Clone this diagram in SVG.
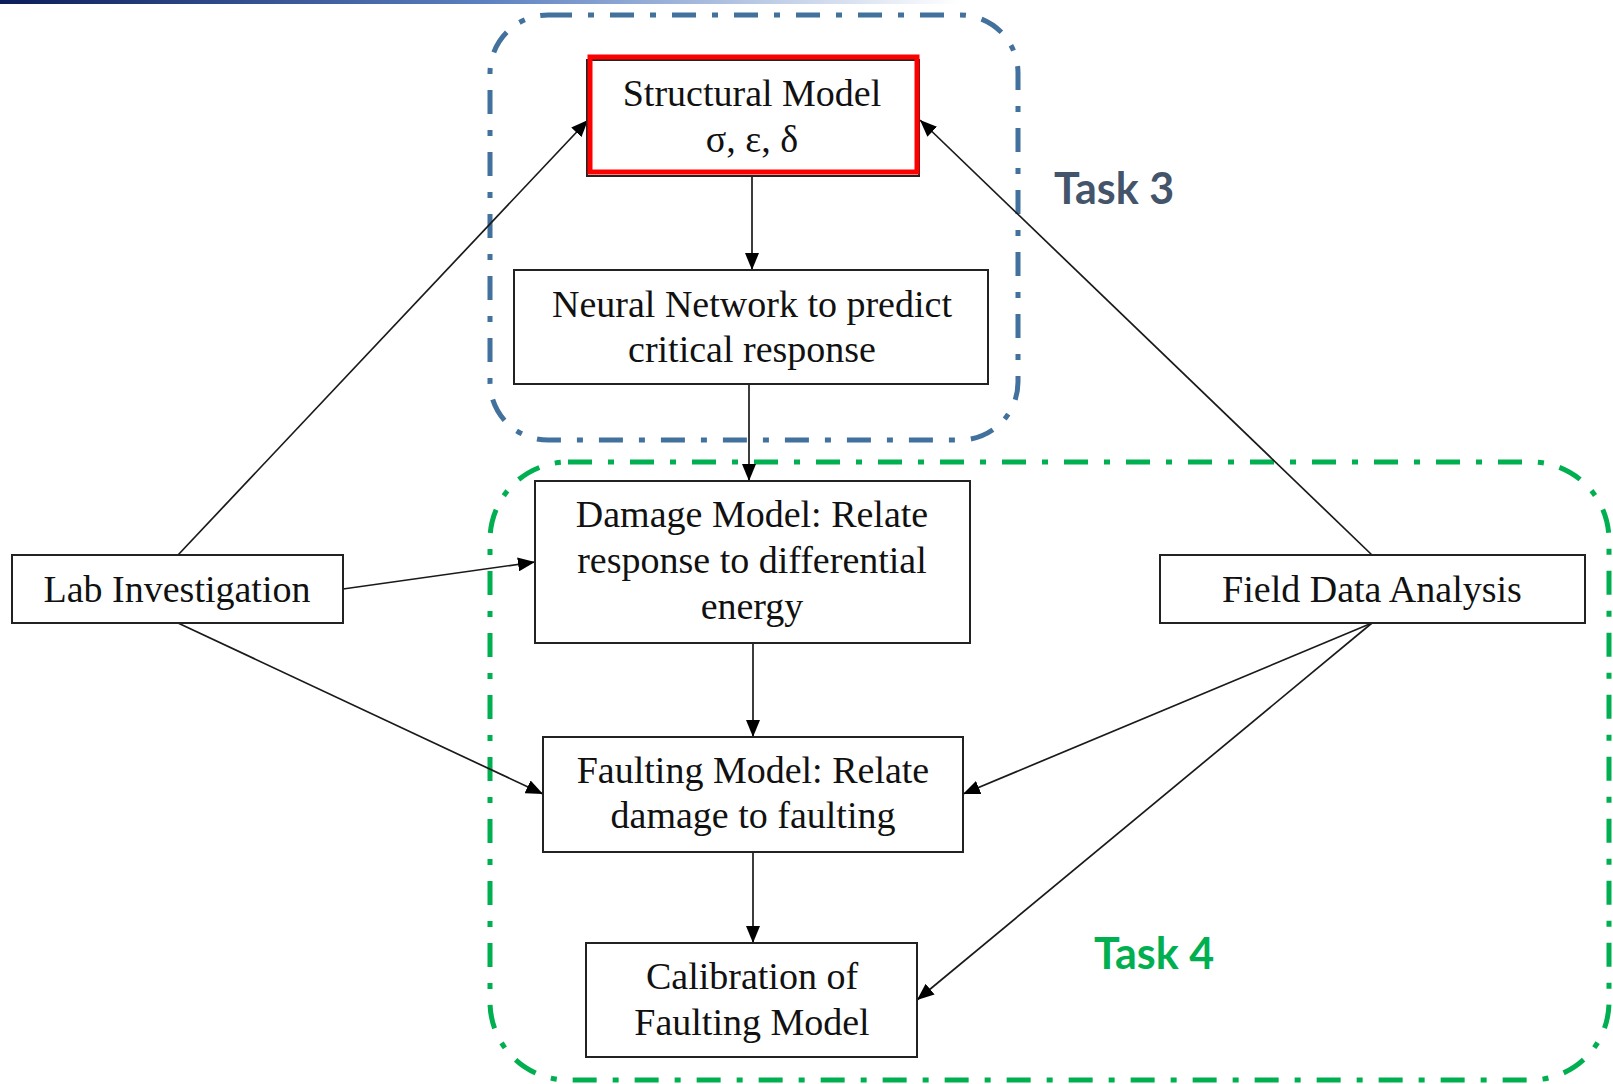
<svg xmlns="http://www.w3.org/2000/svg" width="1613" height="1084" viewBox="0 0 1613 1084">
  <defs>
    <linearGradient id="topbar" x1="0" y1="0" x2="1" y2="0">
      <stop offset="0" stop-color="#0b1d5a"/>
      <stop offset="0.5" stop-color="#5b7fc0"/>
      <stop offset="1" stop-color="#ffffff"/>
    </linearGradient>
    <marker id="arrow" viewBox="0 0 17 14" refX="17" refY="7" markerWidth="17" markerHeight="14" markerUnits="userSpaceOnUse" orient="auto">
      <path d="M0,0 L17,7 L0,14 Z" fill="#000"/>
    </marker>
  </defs>
  <style>
    .node { fill: #ffffff; stroke: #222222; stroke-width: 2; }
    .label { font-family: "Liberation Serif", "Times New Roman", serif; font-size: 38px; fill: #111111; text-anchor: middle; }
    .edge { stroke: #1a1a1a; stroke-width: 1.7; fill: none; marker-end: url(#arrow); }
    .region { fill: none; stroke-width: 5; stroke-dasharray: 24 16 6 16; }
    .task { font-family: Lato, "Open Sans", sans-serif; font-weight: bold; font-size: 43px; }
  </style>

  <rect width="1613" height="1084" fill="#ffffff"/>
  <!-- header rule -->
  <rect x="0" y="0" width="960" height="4" fill="url(#topbar)"/>

  <!-- task regions -->
  <g id="regions">
    <rect id="task3-region" class="region" x="490" y="15" width="528" height="425" rx="58" ry="58" stroke="#41719c"/>
    <rect id="task4-region" class="region" x="490" y="462" width="1119" height="618" rx="78" ry="78" stroke="#00b050"/>
  </g>

  <!-- connectors -->
  <g id="connectors">
    <line class="edge" x1="752" y1="177" x2="752" y2="270"/>
    <line class="edge" x1="749" y1="384" x2="749" y2="481"/>
    <line class="edge" x1="178" y1="555" x2="588" y2="120"/>
    <line class="edge" x1="343" y1="589" x2="535" y2="562"/>
    <line class="edge" x1="178" y1="623" x2="543" y2="794"/>
    <line class="edge" x1="753" y1="643" x2="753" y2="737"/>
    <line class="edge" x1="753" y1="852" x2="753" y2="943"/>
    <line class="edge" x1="1372" y1="555" x2="920" y2="120"/>
    <line class="edge" x1="1372" y1="623" x2="963" y2="794"/>
    <line class="edge" x1="1372" y1="623" x2="917" y2="1000"/>
  </g>

  <!-- nodes -->
  <g id="structural-model">
    <rect class="node" x="587" y="60" width="332" height="116"/>
    <rect x="590" y="57" width="327" height="115" fill="none" stroke="#ff0000" stroke-width="5"/>
    <text class="label" x="752" y="106">Structural Model</text>
    <text class="label" x="752" y="152">σ, ε, δ</text>
  </g>
  <g id="neural-network">
    <rect class="node" x="514" y="270" width="474" height="114"/>
    <text class="label" x="752" y="317">Neural Network to predict</text>
    <text class="label" x="752" y="362">critical response</text>
  </g>
  <g id="damage-model">
    <rect class="node" x="535" y="481" width="435" height="162"/>
    <text class="label" x="752" y="527">Damage Model: Relate</text>
    <text class="label" x="752" y="573">response to differential</text>
    <text class="label" x="752" y="619">energy</text>
  </g>
  <g id="faulting-model">
    <rect class="node" x="543" y="737" width="420" height="115"/>
    <text class="label" x="753" y="783">Faulting Model: Relate</text>
    <text class="label" x="753" y="828">damage to faulting</text>
  </g>
  <g id="calibration">
    <rect class="node" x="586" y="943" width="331" height="114"/>
    <text class="label" x="752" y="989">Calibration of</text>
    <text class="label" x="752" y="1035">Faulting Model</text>
  </g>
  <g id="lab-investigation">
    <rect class="node" x="12" y="555" width="331" height="68"/>
    <text class="label" x="177" y="602">Lab Investigation</text>
  </g>
  <g id="field-data-analysis">
    <rect class="node" x="1160" y="555" width="425" height="68"/>
    <text class="label" x="1372" y="602">Field Data Analysis</text>
  </g>

  <!-- task labels -->
  <g id="task-labels">
    <text class="task" x="1054" y="204" fill="#44546a">Task 3</text>
    <text class="task" x="1094" y="969" fill="#00b050">Task 4</text>
  </g>
</svg>
